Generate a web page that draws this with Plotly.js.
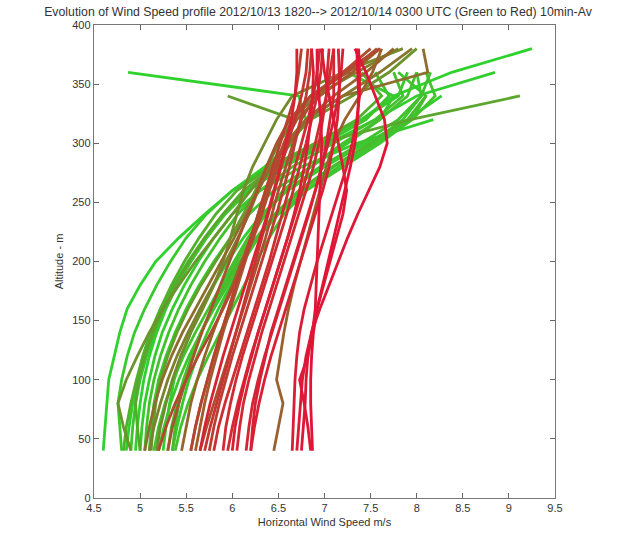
<!DOCTYPE html>
<html>
<head>
<meta charset="utf-8">
<script src="https://cdn.plot.ly/plotly-3.0.1.min.js"></script>
<style>
html,body{margin:0;padding:0;background:#fff;}
#chart{width:626px;height:536px;}
</style>
</head>
<body>
<div id="chart"></div>
<script>
// Altitude levels (m)
const altitudes = [40,60,80,100,120,140,160,180,200,220,240,260,280,300,320,340,360,380];

// Wind speed profiles (m/s), in time order 18:20 -> 03:00 (green -> red)
const p00 = [4.95,4.97,5.00,5.04,5.10,5.18,5.28,5.40,5.55,5.72,5.92,6.15,6.50,6.95,7.40,7.75,8.38,9.25];
const p01 = [4.60,4.62,4.64,4.66,4.72,4.78,4.86,5.00,5.17,5.42,5.70,6.00,6.35,6.65,6.80,6.72,4.87,null];
const p02 = [4.85,4.88,4.92,4.97,5.03,5.11,5.22,5.36,5.52,5.70,5.90,6.15,6.55,7.05,7.55,8.00,8.85,null];
const p03 = [5.25,5.28,5.32,5.37,5.45,5.55,5.67,5.80,5.95,6.12,6.32,6.60,7.00,7.45,7.90,8.27,null,null];
const p04 = [5.00,5.02,5.05,5.10,5.16,5.24,5.35,5.48,5.63,5.80,6.00,6.30,6.75,7.35,8.18,null,null,null];
const p05 = [5.35,5.40,5.46,5.53,5.62,5.73,5.85,5.98,6.12,6.28,6.48,6.75,7.10,7.50,7.85,8.05,8.00,null];
const p06 = [4.80,4.78,4.76,4.80,4.86,4.94,5.05,5.18,5.33,5.50,5.72,6.00,6.40,6.90,7.40,7.80,7.90,null];
const p07 = [5.10,5.12,5.15,5.20,5.28,5.38,5.50,5.64,5.80,5.98,6.18,6.45,6.85,7.25,7.60,7.75,7.25,null];
const p08 = [5.20,5.26,5.33,5.42,5.53,5.66,5.80,5.95,6.10,6.28,6.50,6.80,7.20,7.60,7.95,8.10,7.80,null];
const p09 = [4.90,4.92,4.95,5.00,5.07,5.16,5.27,5.40,5.55,5.72,5.92,6.18,6.55,7.00,7.45,7.70,7.55,null];
const p10 = [5.38,5.44,5.52,5.62,5.74,5.87,6.00,6.13,6.26,6.40,6.56,6.80,7.15,7.55,7.95,8.20,8.10,null];
const p11 = [5.05,5.07,5.10,5.15,5.22,5.31,5.42,5.55,5.70,5.87,6.06,6.30,6.65,7.10,7.55,7.85,7.75,null];
const p12 = [5.15,5.20,5.27,5.36,5.47,5.60,5.74,5.88,6.02,6.17,6.34,6.58,6.95,7.40,7.80,8.05,8.15,null];
const p13 = [5.30,5.34,5.40,5.47,5.56,5.66,5.78,5.91,6.05,6.20,6.36,6.55,6.85,7.20,7.60,7.90,8.00,null];
const p14 = [5.35,5.38,5.42,5.48,5.56,5.66,5.78,5.92,6.08,6.26,6.46,6.72,7.08,7.50,7.90,8.10,null,null];
const p15 = [4.82,4.85,4.90,4.96,5.03,5.12,5.22,5.34,5.48,5.64,5.82,6.05,6.42,6.90,7.35,7.62,7.40,null];
const p16 = [5.00,4.97,4.95,4.98,5.05,5.14,5.25,5.38,5.53,5.70,5.90,6.12,6.45,6.95,7.93,9.12,null,null];
const p17 = [5.12,5.14,5.17,5.22,5.30,5.40,5.52,5.66,5.82,5.98,6.12,6.25,6.38,6.50,6.68,5.95,null,null];
const p18 = [4.90,4.82,4.76,4.85,4.97,5.10,5.25,5.42,5.60,5.80,6.00,6.20,6.40,6.60,6.85,7.30,7.70,8.00];
const p19 = [5.18,5.22,5.28,5.35,5.44,5.55,5.68,5.80,5.90,5.98,6.05,6.12,6.22,6.35,6.48,6.65,7.20,7.85];
const p20 = [5.10,5.15,5.22,5.30,5.40,5.52,5.65,5.79,5.93,6.06,6.18,6.28,6.38,6.50,6.66,6.90,7.35,7.80];
const p21 = [5.55,5.60,5.66,5.73,5.80,5.88,5.96,6.04,6.12,6.20,6.28,6.36,6.45,6.58,6.80,7.20,7.60,7.95];
const p22 = [5.05,5.10,5.16,5.24,5.34,5.46,5.60,5.74,5.88,6.02,6.15,6.28,6.42,6.58,6.80,7.20,8.12,8.07];
const p23 = [5.45,5.50,5.55,5.62,5.70,5.79,5.89,6.00,6.10,6.20,6.30,6.40,6.50,6.62,6.80,7.10,7.45,7.75];
const p24 = [6.45,6.50,6.55,6.48,6.52,6.56,6.61,6.67,6.74,6.81,6.88,6.95,7.02,7.10,7.22,7.38,7.52,7.62];
const p25 = [5.60,5.65,5.70,5.76,5.83,5.90,5.98,6.06,6.14,6.22,6.30,6.38,6.46,6.56,6.70,6.95,7.30,7.60];
const p26 = [5.30,5.35,5.42,5.50,5.58,5.67,5.77,5.87,5.97,6.07,6.17,6.27,6.37,6.48,6.62,6.85,7.25,7.57];
const p27 = [5.65,5.72,5.80,5.88,5.96,6.04,6.12,6.20,6.28,6.36,6.43,6.50,6.58,6.66,6.75,6.90,7.20,7.50];
const p28 = [5.20,5.28,5.38,5.50,5.63,5.77,5.90,6.02,6.13,6.23,6.32,6.40,6.48,6.56,6.66,6.85,7.20,7.60];
const p29 = [5.55,5.60,5.66,5.73,5.80,5.88,5.96,6.04,6.12,6.20,6.28,6.36,6.44,6.52,6.60,6.68,6.72,6.75];
const p30 = [5.75,5.80,5.86,5.93,6.00,6.08,6.16,6.24,6.32,6.40,6.48,6.55,6.62,6.68,6.74,6.80,6.84,6.86];
const p31 = [5.70,5.76,5.83,5.90,5.97,6.04,6.11,6.18,6.25,6.32,6.39,6.46,6.53,6.60,6.68,6.75,6.80,6.82];
const p32 = [5.80,5.85,5.92,6.00,6.08,6.16,6.24,6.32,6.40,6.47,6.54,6.61,6.68,6.75,6.82,6.88,6.92,6.95];
const p33 = [5.90,5.93,5.98,6.04,6.11,6.19,6.27,6.35,6.43,6.51,6.59,6.66,6.73,6.80,6.86,6.92,6.96,6.98];
const p34 = [5.95,6.00,6.06,6.13,6.20,6.28,6.36,6.44,6.52,6.60,6.68,6.76,6.83,6.90,6.96,7.02,7.06,7.10];
const p35 = [6.05,6.08,6.12,6.18,6.25,6.32,6.40,6.48,6.56,6.64,6.72,6.80,6.88,6.94,6.98,7.02,7.03,7.05];
const p36 = [6.15,6.18,6.22,6.28,6.35,6.43,6.51,6.59,6.67,6.75,6.83,6.90,6.97,7.02,7.06,7.10,7.10,7.10];
const p37 = [5.65,5.70,5.76,5.83,5.90,5.98,6.06,6.14,6.22,6.30,6.38,6.45,6.52,6.58,6.64,6.68,6.70,6.70];
const p38 = [6.20,6.24,6.29,6.35,6.42,6.50,6.58,6.66,6.74,6.82,6.90,6.98,7.05,7.10,7.14,7.16,7.16,7.15];
const p39 = [6.20,6.22,6.25,6.30,6.36,6.42,6.50,6.58,6.66,6.74,6.82,6.90,6.97,7.04,7.10,7.15,7.18,7.20];
const p40 = [6.00,6.03,6.08,6.14,6.21,6.28,6.36,6.44,6.52,6.60,6.67,6.73,6.78,6.82,6.85,6.87,6.88,6.86];
const p41 = [6.65,6.66,6.67,6.68,6.70,6.73,6.78,6.85,6.92,7.00,7.08,7.16,7.24,7.30,7.35,7.38,7.38,7.37];
const p42 = [6.70,6.72,6.74,6.76,6.80,6.86,6.92,6.99,7.06,7.13,7.20,7.24,7.20,7.15,7.10,7.05,7.00,6.97];
const p43 = [6.85,6.82,6.78,6.73,6.82,6.87,6.90,6.91,6.92,6.93,6.94,6.95,6.96,6.97,6.96,6.94,6.92,6.92];
const p44 = [6.75,6.77,6.79,6.80,6.82,6.86,6.95,7.05,7.15,7.25,7.36,7.48,7.60,7.68,7.65,7.55,7.45,7.33];
const p45 = [6.87,6.86,6.85,6.85,6.86,6.88,6.92,6.98,7.04,7.10,7.16,7.22,7.28,7.33,7.36,7.37,7.36,7.35];

const profiles = [p00,p01,p02,p03,p04,p05,p06,p07,p08,p09,p10,p11,p12,p13,p14,p15,p16,p17,p18,p19,
                  p20,p21,p22,p23,p24,p25,p26,p27,p28,p29,p30,p31,p32,p33,p34,p35,p36,p37,p38,p39,
                  p40,p41,p42,p43,p44,p45];

const xTicks = [4.5,5,5.5,6,6.5,7,7.5,8,8.5,9,9.5];
const yTicks = [0,50,100,150,200,250,300,350,400];

// green -> brown -> red colour ramp (style stops)
const rampStops = [0, 0.3, 0.5, 0.72, 1];
const rampRGB = [[45,210,45],[70,190,45],[145,105,45],[205,45,50],[225,20,55]];
function rampColor(t){
  let k = 0;
  while (k < rampStops.length-2 && t > rampStops[k+1]) k++;
  const f = (t - rampStops[k])/(rampStops[k+1]-rampStops[k]);
  const c = rampRGB[k].map((v,j)=>Math.round(v + (rampRGB[k+1][j]-v)*f));
  return 'rgb(' + c.join(',') + ')';
}

const traces = profiles.map((p,i)=>({
  type:'scatter', mode:'lines',
  x:p, y:altitudes,
  line:{color:rampColor(i/(profiles.length-1)), width:2.8},
  hoverinfo:'skip', showlegend:false
}));

const axisFont = {family:'Liberation Sans, Arial, sans-serif', size:11, color:'#333'};

const layout = {
  width:626, height:536,
  margin:{l:94, r:71, t:25, b:38},
  paper_bgcolor:'#fff', plot_bgcolor:'#fff',
  title:{text:'Evolution of Wind Speed profile 2012/10/13 1820--> 2012/10/14 0300 UTC (Green to Red) 10min-Av',
         font:{family:'Liberation Sans, Arial, sans-serif', size:12.3, color:'#333'},
         xref:'container', x:0.508, xanchor:'center', yref:'container', y:0.978, yanchor:'middle'},
  xaxis:{range:[4.5,9.5], tickvals:xTicks, ticktext:xTicks.map(String),
         ticks:'inside', ticklen:5, tickcolor:'#666', showline:true, linecolor:'#777', linewidth:1.2,
         mirror:'ticks', showgrid:false, zeroline:false, tickfont:axisFont,
         title:{text:'Horizontal Wind Speed m/s', font:axisFont, standoff:4}},
  yaxis:{range:[0,400], tickvals:yTicks, ticktext:yTicks.map(String),
         ticks:'inside', ticklen:5, tickcolor:'#666', showline:true, linecolor:'#777', linewidth:1.2,
         mirror:'ticks', showgrid:false, zeroline:false, tickfont:axisFont,
         title:{text:'Altitude - m', font:axisFont, standoff:6}}
};

Plotly.newPlot('chart', traces, layout, {staticPlot:true, displayModeBar:false});
</script>
</body>
</html>
